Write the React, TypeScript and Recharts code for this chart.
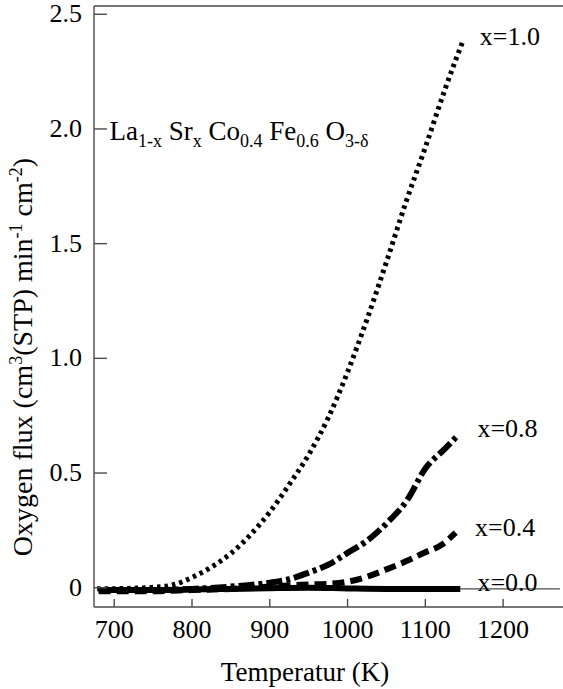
import { Line, LineChart, ReferenceDot, ReferenceLine, XAxis, YAxis } from "recharts";

const FONT = '"Liberation Serif", "Times New Roman", serif';
const AXIS = "#4a4a4a";
const serif = { fontFamily: FONT, whiteSpace: "pre" as const };

const xTicks = [700, 800, 900, 1000, 1100, 1200];
const yTicks = [0, 0.5, 1.0, 1.5, 2.0, 2.5];
const yTickLabels = ["0", "0.5", "1.0", "1.5", "2.0", "2.5"];

// x = 1.0 (dotted)
const tempX10 = [678, 700, 725, 750, 775, 800, 825, 850, 875, 900, 925, 950, 975, 1000, 1025, 1050, 1075, 1100, 1125, 1149];
const fluxX10 = [-0.004, -0.004, -0.002, 0.002, 0.012, 0.045, 0.09, 0.15, 0.23, 0.33, 0.45, 0.58, 0.74, 0.94, 1.17, 1.42, 1.68, 1.92, 2.17, 2.39];

// x = 0.8 (dash-dot)
const tempX08 = [680, 700, 750, 800, 850, 875, 900, 925, 950, 975, 1000, 1025, 1050, 1077, 1100, 1125, 1142];
const fluxX08 = [-0.01, -0.01, -0.01, -0.005, 0.005, 0.012, 0.022, 0.037, 0.066, 0.1, 0.152, 0.205, 0.28, 0.384, 0.52, 0.605, 0.665];

// x = 0.4 (dashed)
const tempX04 = [680, 700, 750, 800, 850, 900, 940, 975, 1000, 1025, 1050, 1075, 1100, 1120, 1139];
const fluxX04 = [-0.015, -0.015, -0.015, -0.01, -0.005, 0.005, 0.013, 0.017, 0.026, 0.048, 0.08, 0.115, 0.155, 0.185, 0.24];

// x = 0.0 (solid)
const tempX00 = [680, 750, 800, 850, 900, 950, 1000, 1050, 1100, 1145];
const fluxX00 = [-0.01, -0.01, -0.008, -0.005, -0.002, 0.0, -0.003, -0.005, -0.005, -0.005];

const toPoints = (ts: number[], vs: number[]) => ts.map((t, i) => ({ t, v: vs[i] }));

const XTick = ({ x, y, payload }: any) => (
  <g>
    <line x1={x} x2={x} y1={y} y2={y - 8} stroke={AXIS} strokeWidth={1.4} />
    <text x={x} y={y + 31} textAnchor="middle" fontFamily={FONT} style={serif} fontSize={26} fill="#000">
      {payload.value}
    </text>
  </g>
);

const YTick = ({ x, y, payload }: any) => {
  const i = yTicks.indexOf(payload.value);
  return (
    <g>
      <line x1={x} x2={x + 13} y1={y} y2={y} stroke={AXIS} strokeWidth={1.4} />
      <text x={x - 12} y={y + 8} textAnchor="end" fontFamily={FONT} style={serif} fontSize={26} fill="#000">
        {i >= 0 ? yTickLabels[i] : payload.value}
      </text>
    </g>
  );
};

const YTitle = () => (
  <text
    x={32}
    y={357}
    transform="rotate(-90, 32, 357)"
    textAnchor="middle"
    fontFamily={FONT}
    fontSize={28}
    fill="#000"
    style={serif}
  >
    <tspan>Oxygen flux (cm</tspan>
    <tspan dy={-10} fontSize={18}>3</tspan>
    <tspan dy={10}>(STP) min</tspan>
    <tspan dy={-10} fontSize={18}>-1</tspan>
    <tspan dy={10}> cm</tspan>
    <tspan dy={-10} fontSize={18}>-2</tspan>
    <tspan dy={10}>)</tspan>
  </text>
);

const XTitle = () => (
  <text x={305} y={681} textAnchor="middle" fontFamily={FONT} style={serif} fontSize={27} fill="#000">
    Temperatur (K)
  </text>
);

const seriesTag = (text: string) => (props: any) => {
  const vb = props.viewBox;
  return (
    <text x={vb.x} y={vb.y + 8} fontFamily={FONT} style={serif} fontSize={26} fill="#000">
      {text}
    </text>
  );
};

const Formula = (props: any) => {
  const vb = props.viewBox;
  return (
    <text x={vb.x} y={vb.y + 11} fontFamily={FONT} fontSize={27} fill="#000" style={serif}>
      <tspan>La</tspan>
      <tspan dy={7} fontSize={18}>1-x</tspan>
      <tspan dy={-7}> Sr</tspan>
      <tspan dy={7} fontSize={18}>x</tspan>
      <tspan dy={-7}> Co</tspan>
      <tspan dy={7} fontSize={18}>0.4</tspan>
      <tspan dy={-7}> Fe</tspan>
      <tspan dy={7} fontSize={18}>0.6</tspan>
      <tspan dy={-7}> O</tspan>
      <tspan dy={7} fontSize={18}>3-δ</tspan>
    </text>
  );
};

export default function App() {
  return (
    <div style={{ position: "absolute", left: 0, top: 0, background: "#fff", fontFamily: FONT }}>
      <LineChart width={563} height={689} margin={{ top: 6, right: 0, bottom: 0, left: 0 }} style={{ fontFamily: FONT }}>
        <XAxis
          dataKey="t"
          type="number"
          domain={[674, 1277]}
          allowDataOverflow
          ticks={xTicks}
          tickSize={0}
          tickMargin={0}
          tick={<XTick />}
          height={82}
          axisLine={{ stroke: AXIS, strokeWidth: 1.4 }}
          tickLine={false}
          label={{ content: () => <XTitle /> }}
        />
        <YAxis
          dataKey="v"
          type="number"
          domain={[-0.084, 2.536]}
          allowDataOverflow
          ticks={yTicks}
          tickSize={0}
          tickMargin={0}
          tick={<YTick />}
          width={94}
          axisLine={{ stroke: AXIS, strokeWidth: 1.4 }}
          tickLine={false}
          label={{ content: () => <YTitle /> }}
        />
        <ReferenceLine y={2.536} stroke={AXIS} strokeWidth={1.4} />
        <ReferenceLine
          segment={[
            { x: 1145, y: -0.005 },
            { x: 1273, y: -0.005 },
          ]}
          stroke={AXIS}
          strokeWidth={1.2}
        />
        <Line
          data={toPoints(tempX10, fluxX10)}
          dataKey="v"
          type="monotone"
          stroke="#000"
          strokeWidth={5}
          strokeDasharray="3.5 4"
          dot={false}
          activeDot={false}
          isAnimationActive={false}
        />
        <Line
          data={toPoints(tempX08, fluxX08)}
          dataKey="v"
          type="monotone"
          stroke="#000"
          strokeWidth={6}
          strokeDasharray="16 4 4 4"
          dot={false}
          activeDot={false}
          isAnimationActive={false}
        />
        <Line
          data={toPoints(tempX04, fluxX04)}
          dataKey="v"
          type="monotone"
          stroke="#000"
          strokeWidth={6}
          strokeDasharray="12 6"
          dot={false}
          activeDot={false}
          isAnimationActive={false}
        />
        <Line
          data={toPoints(tempX00, fluxX00)}
          dataKey="v"
          type="monotone"
          stroke="#000"
          strokeWidth={6}
          dot={false}
          activeDot={false}
          isAnimationActive={false}
        />
        <ReferenceDot x={694} y={2.0} r={0} fill="none" stroke="none" label={Formula} />
        <ReferenceDot x={1170} y={2.4} r={0} fill="none" stroke="none" label={seriesTag("x=1.0")} />
        <ReferenceDot x={1167} y={0.693} r={0} fill="none" stroke="none" label={seriesTag("x=0.8")} />
        <ReferenceDot x={1164} y={0.262} r={0} fill="none" stroke="none" label={seriesTag("x=0.4")} />
        <ReferenceDot x={1167} y={0.022} r={0} fill="none" stroke="none" label={seriesTag("x=0.0")} />
      </LineChart>
    </div>
  );
}
